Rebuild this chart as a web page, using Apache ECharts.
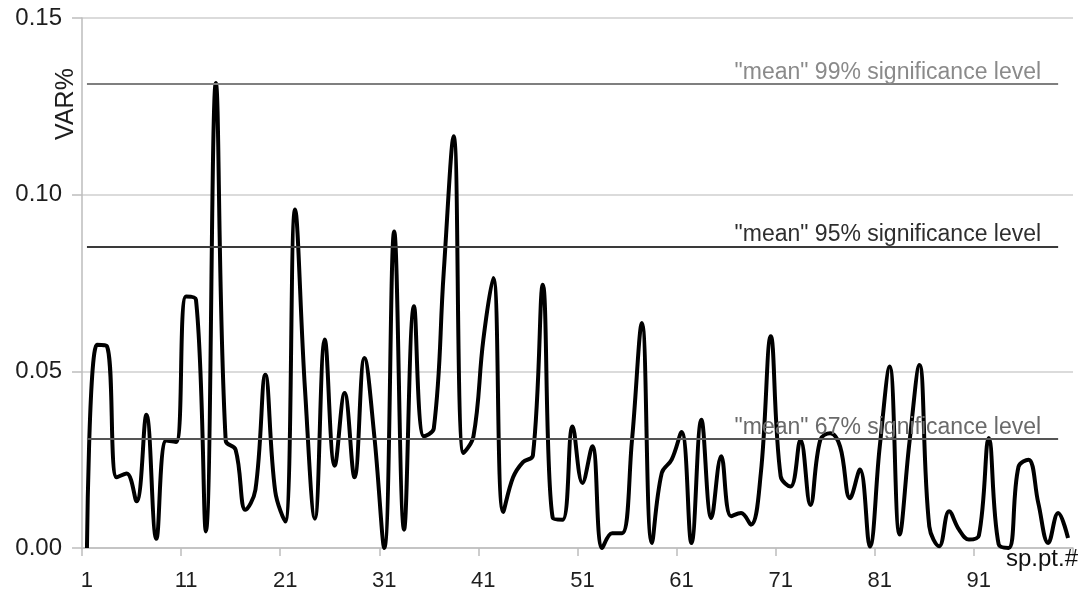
<!DOCTYPE html>
<html>
<head>
<meta charset="utf-8">
<script src="https://cdn.jsdelivr.net/npm/echarts@6/dist/echarts.min.js"></script>
<style>
html,body{margin:0;padding:0;background:#fff;}
#chart{width:1081px;height:593px;}
</style>
</head>
<body>
<div id="chart"></div>
<script>
// x categories: spectral point numbers 1..100
const categories = ["1","2","3","4","5","6","7","8","9","10","11","12","13","14","15","16","17","18","19","20","21","22","23","24","25","26","27","28","29","30","31","32","33","34","35","36","37","38","39","40","41","42","43","44","45","46","47","48","49","50","51","52","53","54","55","56","57","58","59","60","61","62","63","64","65","66","67","68","69","70","71","72","73","74","75","76","77","78","79","80","81","82","83","84","85","86","87","88","89","90","91","92","93","94","95","96","97","98","99","100"];

// VAR% values
const varValues = [
  0.000, 0.0575, 0.0572, 0.0200, 0.0211, 0.0132, 0.0377, 0.0026, 0.0304, 0.0300,
  0.0712, 0.0703, 0.0047, 0.1316, 0.0304, 0.0278, 0.0108, 0.0165, 0.0490, 0.0160,
  0.0075, 0.0958, 0.0450, 0.0083, 0.0590, 0.0233, 0.0439, 0.0200, 0.0538, 0.0316,
  0.0000, 0.0896, 0.0052, 0.0684, 0.0316, 0.0338, 0.0780, 0.1165, 0.0269, 0.0316,
  0.0590, 0.0764, 0.0102, 0.0200, 0.0243, 0.0262, 0.0745, 0.0085, 0.0080, 0.0344,
  0.0184, 0.0288, 0.0000, 0.0042, 0.0042, 0.0306, 0.0637, 0.0014, 0.0212, 0.0250,
  0.0328, 0.0014, 0.0363, 0.0085, 0.0260, 0.0090, 0.0099, 0.0066, 0.0212, 0.0599,
  0.0203, 0.0174, 0.0306, 0.0122, 0.0306, 0.0325, 0.0287, 0.0141, 0.0222, 0.0004,
  0.0287, 0.0514, 0.0038, 0.0300, 0.0518, 0.0061, 0.0005, 0.0104, 0.0052, 0.0024,
  0.0035, 0.0311, 0.0010, 0.0000, 0.0230, 0.0250, 0.0127, 0.0014, 0.0099, 0.0028
];

// significance levels
const levelValues = [0.1314, 0.0854, 0.0309];
const levelNames = ['"mean" 99% significance level', '"mean" 95% significance level', '"mean" 67% significance level'];
const levelStart = "1";
const levelEnd = "99";

// y tick labels
const yTicks = ["0.00", "0.05", "0.10", "0.15"];

const levelLineColors = ['#7f7f7f', '#3a3a3a', '#555555'];
const levelTextColors = ['#8a8a8a', '#2e2e2e', '#6a6a6a'];

const chart = echarts.init(document.getElementById('chart'), null, {renderer: 'canvas'});

const markData = levelValues.map((v, i) => [
  {
    coord: [levelStart, v],
    lineStyle: {color: levelLineColors[i], width: 2, type: 'solid'},
    label: {
      show: true,
      formatter: levelNames[i],
      position: 'insideEndTop',
      distance: [17, 0],
      color: levelTextColors[i],
      fontSize: 23,
      fontFamily: 'Liberation Sans, Arial, sans-serif'
    }
  },
  {coord: [levelEnd, v]}
]);

const option = {
  backgroundColor: '#ffffff',
  animation: false,
  grid: {left: 82, right: 8, top: 18, bottom: 45, containLabel: false},
  xAxis: {
    type: 'category',
    data: categories,
    boundaryGap: true,
    axisLine: {show: true, lineStyle: {color: '#bdbdbd', width: 1.5}},
    axisTick: {show: true, interval: 9, length: 8, lineStyle: {color: '#bdbdbd', width: 1.5}},
    axisLabel: {
      interval: 9,
      margin: 22,
      fontSize: 22,
      color: '#1e1e1e',
      fontFamily: 'Liberation Sans, Arial, sans-serif'
    },
    splitLine: {show: false}
  },
  yAxis: {
    type: 'value',
    min: 0,
    max: 0.15,
    interval: 0.05,
    axisLine: {show: true, lineStyle: {color: '#bdbdbd', width: 1.5}},
    axisTick: {show: true, length: 10, lineStyle: {color: '#bdbdbd', width: 1.5}},
    axisLabel: {
      margin: 20,
      fontSize: 24,
      color: '#1e1e1e',
      fontFamily: 'Liberation Sans, Arial, sans-serif',
      formatter: function (v) {
        const idx = Math.round(v / 0.05);
        return yTicks[idx] !== undefined ? yTicks[idx] : v.toFixed(2);
      }
    },
    splitLine: {show: true, lineStyle: {color: '#cfcfcf', width: 1.5}}
  },
  series: [
    {
      type: 'line',
      data: varValues,
      smooth: 0.4,
      symbol: 'none',
      clip: true,
      lineStyle: {color: '#000000', width: 4},
      markLine: {
        silent: true,
        symbol: ['none', 'none'],
        animation: false,
        data: markData
      },
      z: 3
    }
  ],
  graphic: [
    {
      type: 'text',
      x: 66,
      y: 104,
      rotation: Math.PI / 2,
      style: {
        text: 'VAR%',
        fontSize: 25,
        fontFamily: 'Liberation Sans, Arial, sans-serif',
        fill: '#1e1e1e',
        textAlign: 'center',
        textVerticalAlign: 'middle'
      }
    },
    {
      type: 'text',
      x: 1078,
      y: 547,
      style: {
        text: 'sp.pt.#',
        fontSize: 24,
        fontFamily: 'Liberation Sans, Arial, sans-serif',
        fill: '#111111',
        textAlign: 'right',
        textVerticalAlign: 'top'
      },
      z: 10
    }
  ]
};

chart.setOption(option);
</script>
</body>
</html>
